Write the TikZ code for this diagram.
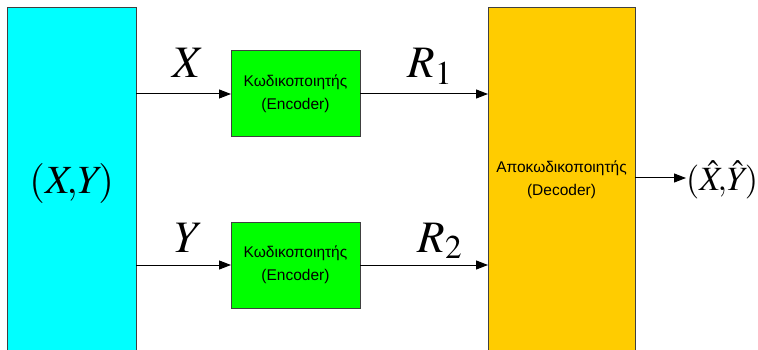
\documentclass[tikz,border=0pt]{standalone}
\usepackage{mathptmx}
\usepackage[no-math]{fontspec}
\newfontfamily\arialfont{Liberation Sans}
\usepackage{xcolor}
\definecolor{aqua}{RGB}{0,255,255}
\definecolor{lime}{RGB}{0,255,0}
\definecolor{amber}{RGB}{255,204,0}
\definecolor{edge}{RGB}{64,64,64}
\usetikzlibrary{arrows.meta}
\usetikzlibrary{positioning}

\begin{document}
\begin{tikzpicture}[x=1pt,y=-1pt,
  blk/.style={draw=edge,line width=1pt,inner sep=0pt,outer sep=0pt,align=center},
  txt/.style={font=\arialfont\fontsize{15.5}{23}\selectfont},
  big/.style={font=\fontsize{45}{50}\selectfont,anchor=base,inner sep=0pt},
  sig/.style={line width=1pt,-{Triangle[length=12pt,width=9pt]}}]
\useasboundingbox (0,0) rectangle (758,350);
\node[blk,fill=aqua,minimum width=128.5pt,minimum height=352pt,font=\fontsize{40}{44}\selectfont] (src) at (71.75,183.5) {$(X\mkern-3mu{,}Y\mkern-2mu)$};
\node[blk,txt,fill=lime,minimum width=129pt,minimum height=86pt] (enc1) at (295.5,94) {Κωδικοποιητής\\(Encoder)};
\node[blk,txt,fill=lime,minimum width=129pt,minimum height=86pt] (enc2) at (295.5,265) {Κωδικοποιητής\\(Encoder)};
\node[blk,txt,fill=amber,minimum width=147pt,minimum height=345pt] (dec) at (561.5,180) {Αποκωδικοποιητής\\(Decoder)};
\node[anchor=west,inner sep=0pt,font=\fontsize{34}{40}\selectfont] (out) at (686,180) {$(\hat{X}\mkern-3mu{,}\hat{Y}\mkern-2mu)$};
% inputs
\draw[sig] (src.east |- enc1.west) -- node[big,yshift=16pt,xshift=4.5pt] {$X$} (enc1.west);
\draw[sig] (src.east |- enc2.west) -- node[big,yshift=13pt,xshift=5pt] {$Y$} (enc2.west);
% rates
\draw[sig] (enc1.east) -- node[big,yshift=16pt,xshift=6pt] {$R_1$} (dec.west |- enc1.east);
\draw[sig] (enc2.east) -- node[big,yshift=13pt,xshift=16pt] {$R_2$} (dec.west |- enc2.east);
% output
\draw[sig] (dec.east |- 0,178) -- (out.west |- 0,178);
\end{tikzpicture}
\end{document}
